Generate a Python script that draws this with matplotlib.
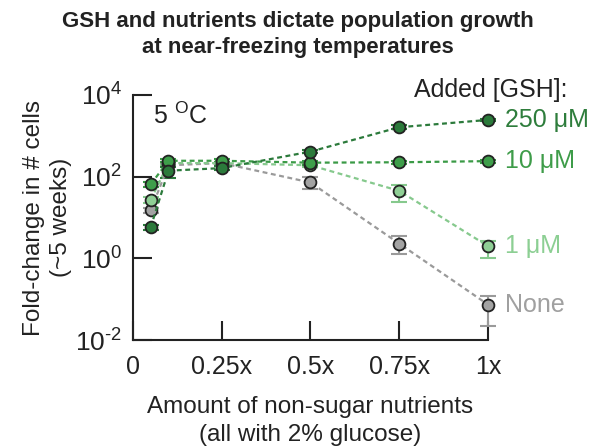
import matplotlib
matplotlib.use('Agg')
import matplotlib.pyplot as plt
import numpy as np

plt.rcParams['font.family'] = ['Liberation Sans', 'DejaVu Sans']
plt.rcParams['mathtext.fontset'] = 'custom'
plt.rcParams['mathtext.rm'] = 'Liberation Sans'
plt.rcParams['mathtext.it'] = 'Liberation Sans'

# nutrient amount (fraction of 1x)
nutrients = [0.05, 0.1, 0.25, 0.5, 0.75, 1.0]
xtick_pos = [0, 0.25, 0.5, 0.75, 1.0]
xtick_labels = ['0', '0.25x', '0.5x', '0.75x', '1x']

# fold-change values, with lower / upper error bounds
gsh_250 = [5.8, 140, 162, 410, 1620, 2450]
gsh_250_lo = [5.0, 93, 145, 370, 1450, 2250]
gsh_250_hi = [6.6, 175, 180, 450, 1800, 2650]

gsh_10 = [65, 245, 245, 220, 225, 240]
gsh_10_lo = [55, 225, 225, 195, 205, 220]
gsh_10_hi = [75, 265, 265, 245, 245, 260]

gsh_1 = [27, 215, 215, 190, 45, 2.0]
gsh_1_lo = [23, 195, 195, 170, 24, 1.0]
gsh_1_hi = [31, 235, 235, 210, 62, 2.7]

gsh_none = [15, 190, 215, 72, 2.3, 0.074]
gsh_none_lo = [13, 170, 195, 51, 1.25, 0.022]
gsh_none_hi = [17, 210, 235, 100, 3.5, 0.12]

series = [
    ('None', gsh_none, gsh_none_lo, gsh_none_hi, '#a3a3a3', '#9a9a9a', '#a0a0a0'),
    ('1 μM', gsh_1, gsh_1_lo, gsh_1_hi, '#8fcf95', '#86c98d', '#8ccf93'),
    ('10 μM', gsh_10, gsh_10_lo, gsh_10_hi, '#3e9e4a', '#3a9a46', '#3e9c49'),
    ('250 μM', gsh_250, gsh_250_lo, gsh_250_hi, '#2b7a3b', '#2b7a3b', '#2e7d3c'),
]

fig = plt.figure(figsize=(5.95, 4.48), dpi=100)
ax = fig.add_axes([0.2235, 0.241, 0.5965, 0.547])

edge = '#222222'
for name, vals, lo, hi, face, line, txt in series:
    vals = np.array(vals)
    yerr = [vals - np.array(lo), np.array(hi) - vals]
    ax.errorbar(nutrients, vals, yerr=yerr, fmt='none', ecolor=line,
                elinewidth=1.5, capsize=6, capthick=1.5, clip_on=False, zorder=2)
    ax.plot(nutrients, vals, color=line, linestyle=(0, (2.2, 1.6)), linewidth=1.6,
            marker='o', markersize=8.5, markerfacecolor=face,
            markeredgecolor=edge, markeredgewidth=1.3, clip_on=False, zorder=3)
    ax.annotate(name, xy=(nutrients[-1], vals[-1]), xytext=(12, 0),
                textcoords='offset points', ha='left', va='center',
                fontsize=18, color=txt, annotation_clip=False)

ax.set_yscale('log')
ax.set_ylim(1e-2, 1e4)
ax.set_xlim(0, 1)
ax.set_yticks([1e-2, 1, 1e2, 1e4])
ax.set_yticklabels(['$10^{\\text{-2}}$', '$10^{0}$', '$10^{2}$', '$10^{4}$'])
ax.minorticks_off()
ax.set_xticks(xtick_pos)
ax.set_xticklabels(xtick_labels)

for s in ['top', 'right']:
    ax.spines[s].set_visible(False)
for s in ['left', 'bottom']:
    ax.spines[s].set_linewidth(1.5)
    ax.spines[s].set_color('#222222')
ax.tick_params(direction='in', length=14, width=1.5, colors='#222222',
               labelsize=18, pad=11)
ax.tick_params(axis='y', labelsize=19, pad=8)

ax.text(0.055, 0.915, '5 $^{\\mathrm{O}}$C', transform=ax.transAxes,
        fontsize=18, ha='left', va='center', color='#222222')
ax.text(1.225, 1.02, 'Added [GSH]:', transform=ax.transAxes,
        fontsize=18, ha='right', va='center', color='#222222')

ax.set_xlabel('Amount of non-sugar nutrients\n(all with 2% glucose)',
              fontsize=17.5, color='#222222', labelpad=12, linespacing=1.35)
ax.set_ylabel('Fold-change in # cells\n(~5 weeks)', fontsize=17.5,
              color='#222222', labelpad=2, linespacing=1.3)
fig.suptitle('GSH and nutrients dictate population growth\nat near-freezing temperatures',
             fontsize=16, fontweight='bold', color='#222222', y=0.975,
             linespacing=1.3)

fig.savefig('out.png', dpi=100)
